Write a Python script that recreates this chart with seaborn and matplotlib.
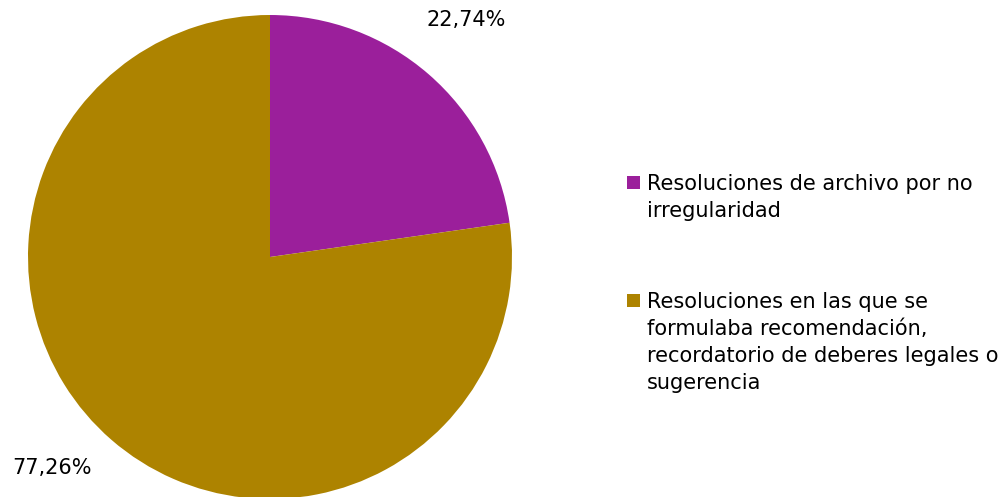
import matplotlib
matplotlib.use("Agg")
import matplotlib.pyplot as plt
from matplotlib.patches import Rectangle
import seaborn as sns

sns.set_theme(style="white")
plt.rcParams['font.family'] = ['DejaVu Sans']

categories = ["Resoluciones de archivo por no\nirregularidad",
              "Resoluciones en las que se\nformulaba recomendación,\nrecordatorio de deberes legales o\nsugerencia"]
values = [22.74, 77.26]
value_labels = ["22,74%", "77,26%"]
colors = ["#9B1F9B", "#AD8300"]

fig = plt.figure(figsize=(10.04, 4.97), dpi=100)
W, H = 1004, 497
cx, cy, r = 270, 257, 242
ax = fig.add_axes([(cx - r) / W, (H - cy - r) / H, 2 * r / W, 2 * r / H])
wedges, _ = ax.pie(values, colors=colors, startangle=90, counterclock=False,
                   radius=1, wedgeprops=dict(linewidth=0))
ax.set_xlim(-1, 1)
ax.set_ylim(-1, 1)
ax.set_aspect("equal")
ax.axis("off")

label_pos = [(466, 20), (52, 468)]
for (px, py), t in zip(label_pos, value_labels):
    fig.text(px / W, 1 - py / H, t, ha="center", va="center", fontsize=15, color="black")

# legend (drawn manually so the swatch aligns with the first text line)
legend_baselines = [190, 308]
line_step = 27
for base, cat, col in zip(legend_baselines, categories, colors):
    fig.add_artist(Rectangle((627 / W, 1 - (base - 1) / H), 13 / W, 13 / H,
                             transform=fig.transFigure, facecolor=col, edgecolor="none"))
    for i, line in enumerate(cat.split("\n")):
        fig.text(647 / W, 1 - (base + i * line_step) / H, line, ha="left",
                 va="baseline", fontsize=15, color="black")

fig.savefig("out.png", dpi=100)
